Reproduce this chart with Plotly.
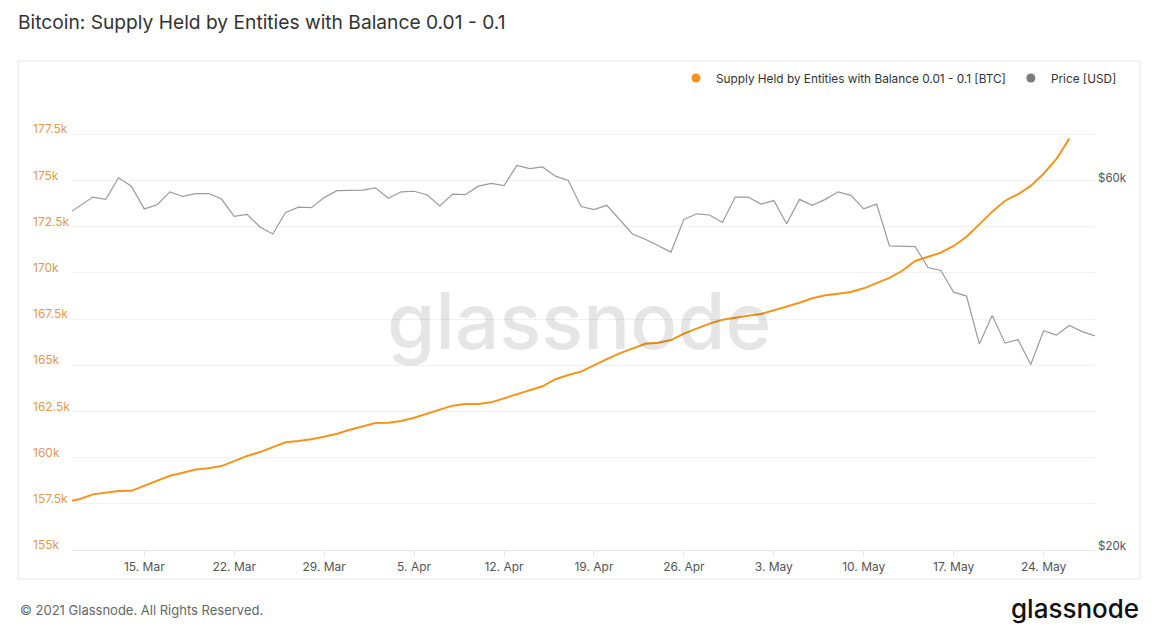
import math
import pandas as pd
import plotly.graph_objects as go

# ---- data ----
supply_dates = pd.date_range("2021-03-09", "2021-05-26", freq="D")
supply_btc = [
    157600, 157760, 158010, 158120, 158190, 158200, 158460, 158730, 159020, 159180,
    159360, 159420, 159540, 159810, 160090, 160300, 160570, 160830, 160900, 160990,
    161130, 161290, 161510,
    161690, 161870, 161890, 161980, 162160, 162380, 162610, 162810, 162900, 162900,
    162990, 163210, 163430, 163680, 163860, 164240, 164470, 164650, 165010, 165330,
    165640, 165890, 166160, 166220, 166360, 166710, 166970, 167250, 167460, 167590,
    167680, 167770, 167970, 168170, 168380, 168620, 168780, 168870, 168960, 169160,
    169430, 169720, 170110, 170640, 170870, 171090, 171450, 171950, 172620, 173310,
    173900, 174250, 174700, 175360, 176160, 177260,
]
price_dates = pd.date_range("2021-03-09", "2021-05-28", freq="D")
price_usd = [
    54500, 56000, 57400, 57000, 60800, 59300, 55400, 56100, 58300, 57500,
    58000, 58000, 57100, 54200, 54500, 52500, 51400, 54800, 55700, 55600,
    57300, 58500, 58500,
    58600, 59000, 57200, 58300, 58400, 57800, 55900, 57900, 57800, 59300,
    59800, 59400, 63100, 62500, 62800, 61100, 60300, 55800, 55300, 56000,
    53600, 51400, 50600, 49700, 48700, 53700, 54600, 54400, 53200, 57400,
    57400, 56200, 56800, 53000, 57000, 56000, 57000, 58300, 57700, 55400,
    56200, 49600, 49500, 49500, 46500, 46100, 43200, 42700, 37000, 40300,
    37100, 37500, 34800, 38500, 38000, 39100, 38400, 37900,
]
y_tickvals = [155000, 157500, 160000, 162500, 165000, 167500, 170000, 172500, 175000, 177500, 180000]
y_ticktext = ["155k", "157.5k", "160k", "162.5k", "165k", "167.5k", "170k", "172.5k", "175k", "177.5k", ""]
y2_tickvals = [20000, 60000]
y2_ticktext = ["$20k", "$60k"]
x_tickvals = ["2021-03-15", "2021-03-22", "2021-03-29", "2021-04-05", "2021-04-12", "2021-04-19",
              "2021-04-26", "2021-05-03", "2021-05-10", "2021-05-17", "2021-05-24"]
x_ticktext = ["15. Mar", "22. Mar", "29. Mar", "5. Apr", "12. Apr", "19. Apr",
              "26. Apr", "3. May", "10. May", "17. May", "24. May"]
supply_name = "Supply Held by Entities with Balance 0.01 - 0.1 [BTC]"
price_name = "Price [USD]"
title_text = "Bitcoin: Supply Held by Entities with Balance 0.01 - 0.1"

# ---- geometry (pixels, page has an 8px body margin) ----
OFF = 8
W, H = 1164 - OFF, 640 - OFF
ML, MR, MT, MB = 18, 69, 80, 90
PW = W - ML - MR
PH = H - MT - MB
PLOT_L = 72  # in page coords


def px(xp):
    """page x pixel -> paper fraction"""
    return (xp - OFF - ML) / PW


def py(yp):
    """page y pixel -> paper fraction"""
    return (H - MB - (yp - OFF)) / PH


ORANGE = "#f7931a"
GRAY = "#9b9b9b"
FONT = "Inter"

fig = go.Figure()
fig.add_trace(go.Scatter(x=price_dates, y=price_usd, yaxis="y2", mode="lines",
                         line=dict(color=GRAY, width=1.2), showlegend=False, hoverinfo="skip"))
fig.add_trace(go.Scatter(x=supply_dates, y=supply_btc, yaxis="y", mode="lines",
                         line=dict(color=ORANGE, width=2), showlegend=False, hoverinfo="skip"))
# legend entries (dots)
fig.add_trace(go.Scatter(x=[None], y=[None], mode="markers", name=supply_name,
                         marker=dict(color=ORANGE, size=9)))
fig.add_trace(go.Scatter(x=[None], y=[None], mode="markers", name=price_name,
                         marker=dict(color="#7a7a7a", size=9)))

fig.update_layout(
    width=W, height=H,
    margin=dict(l=ML, r=MR, t=MT, b=MB),
    paper_bgcolor="white", plot_bgcolor="white",
    font=dict(family=FONT, color="#333"),
    title=dict(text=title_text, x=(18 - OFF) / W, xref="container", xanchor="left",
               y=1 - (22 - OFF) / H, yref="container", yanchor="middle",
               font=dict(size=19.2, color="#333", family=FONT)),
    xaxis=dict(type="date", domain=[px(PLOT_L), 1],
               range=["2021-03-09 09:00", "2021-05-28 00:00"],
               tickvals=x_tickvals, ticktext=x_ticktext,
               ticks="outside", ticklen=6, tickcolor="#e8e8e8", tickwidth=1,
               showline=True, linecolor="#e8e8e8", linewidth=1,
               showgrid=False, zeroline=False,
               tickfont=dict(size=12, color="#555")),
    yaxis=dict(range=[155000, 180000], tickvals=y_tickvals, ticktext=y_ticktext,
               anchor="free", position=max(0.0, px(29)), ticklabelposition="inside",
               ticklabeloverflow="allow",
               showgrid=True, gridcolor="#f1f1f1", gridwidth=1,
               zeroline=False, showline=False, ticks="",
               ticklabelshift=-5, ticklabelstandoff=0,
               tickfont=dict(size=12, color="#e09a52")),
    yaxis2=dict(type="log", overlaying="y", side="right", anchor="x",
                range=[math.log10(20000), math.log10(79500)],
                tickvals=y2_tickvals, ticktext=y2_ticktext,
                showgrid=False, zeroline=False, showline=False, ticks="",
                ticklabelshift=-4, ticklabelstandoff=2,
                tickfont=dict(size=11.5, color="#555")),
    legend=dict(orientation="h", x=px(1122), xanchor="right", y=py(78), yanchor="middle",
                font=dict(size=11.8, color="#333"), itemwidth=30,
                bgcolor="rgba(0,0,0,0)", traceorder="normal"),
    shapes=[dict(type="rect", xref="paper", yref="paper",
                 x0=px(18), x1=px(1140), y0=py(579), y1=py(61),
                 line=dict(color="#e6e6e6", width=1), fillcolor="rgba(0,0,0,0)", layer="below")],
    annotations=[
        dict(text="glassnode", xref="paper", yref="paper", x=px(579), y=py(320),
             xanchor="center", yanchor="middle", showarrow=False,
             font=dict(size=78, color="rgba(0,0,0,0.1)", family=FONT, weight=500)),
        dict(text="© 2021 Glassnode. All Rights Reserved.", xref="paper", yref="paper",
             x=px(18), y=py(610), xanchor="left", yanchor="middle", showarrow=False,
             font=dict(size=13, color="#666", family=FONT)),
        dict(text="glassnode", xref="paper", yref="paper",
             x=px(1141), y=py(608), xanchor="right", yanchor="middle", showarrow=False,
             font=dict(size=26, color="#111", family=FONT, weight=500)),
    ],
)

fig.write_html("out.html")
